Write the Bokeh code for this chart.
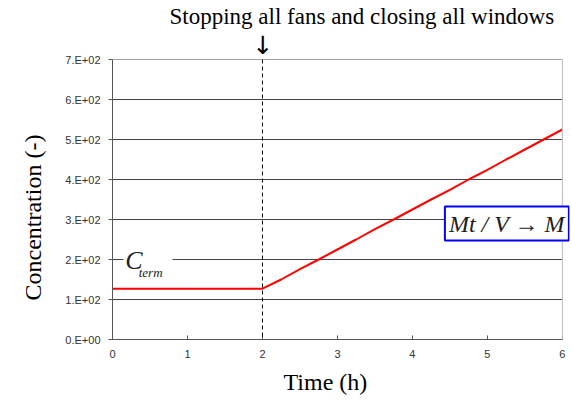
from bokeh.plotting import figure
from bokeh.models import Range1d, FixedTicker, Label, Span, ColumnDataSource, Title, BoxAnnotation
from bokeh.embed import file_html
from bokeh.resources import INLINE

# ---- data ----
time_h = [0, 2, 2.25, 2.5, 2.75, 3, 3.25, 3.5, 3.75, 4, 4.25, 4.5, 4.75, 5, 5.25, 5.5, 5.75, 6]
concentration = [127, 127, 150, 176, 200, 225, 250, 276, 300, 325, 350, 374, 400, 424, 450, 475, 500, 525]
x_ticks = [0, 1, 2, 3, 4, 5, 6]
y_ticks = [0, 100, 200, 300, 400, 500, 600, 700]
y_tick_labels = ["0.E+00", "1.E+02", "2.E+02", "3.E+02", "4.E+02", "5.E+02", "6.E+02", "7.E+02"]
event_time = 2
title_text = "Stopping all fans and closing all windows"
x_label = "Time (h)"
y_label = "Concentration (-)"
box_text = "Mt / V \u2192 M"

x_min, x_max = x_ticks[0], x_ticks[-1]

p = figure(width=571, height=401, output_backend="svg", toolbar_location=None,
           x_range=Range1d(x_min, 6.095), y_range=Range1d(0, 700),
           min_border_left=112, min_border_right=2, min_border_top=59, min_border_bottom=61)
p.background_fill_color = "white"
p.border_fill_color = "white"
p.outline_line_color = None
p.xgrid.visible = False
p.ygrid.visible = False

# horizontal grid lines (only across the data span)
p.segment(x0=[x_min] * (len(y_ticks) - 1), x1=[x_max] * (len(y_ticks) - 1),
          y0=y_ticks[1:], y1=y_ticks[1:], line_color="#444444", line_width=1)
# right frame edge
p.add_layout(Span(location=x_max, dimension="height", line_color="#bbbbbb", line_width=1))

src = ColumnDataSource(dict(t=time_h, c=concentration))
p.line("t", "c", source=src, line_color="#ff0000", line_width=2)

# axes
p.xaxis.ticker = FixedTicker(ticks=x_ticks)
p.yaxis.ticker = FixedTicker(ticks=y_ticks)
p.xaxis.bounds = (x_min, x_max)
p.yaxis.major_label_overrides = {t: l for t, l in zip(y_ticks, y_tick_labels)}
for ax in (p.xaxis[0], p.yaxis[0]):
    ax.axis_line_color = "#555555"
    ax.major_tick_line_color = "#555555"
    ax.minor_tick_line_color = None
    ax.major_label_text_font = "Liberation Sans"
    ax.major_label_text_font_size = "11px"
    ax.major_label_text_color = "#333333"
    ax.major_label_text_font_style = "normal"
p.xaxis.major_tick_in = 4
p.xaxis.major_tick_out = 0
p.xaxis.major_label_standoff = 10
p.yaxis.major_tick_in = 0
p.yaxis.major_tick_out = 4
p.yaxis.major_label_standoff = 8

# x axis label as a bottom title
p.add_layout(Title(text=x_label, text_font="Liberation Serif", text_font_size="24px",
                   text_font_style="normal", text_color="black", text_line_height=1.0,
                   align="left", offset=171, standoff=13), "below")

# y axis label as a side title
p.add_layout(Title(text=y_label, text_font="Liberation Serif", text_font_size="24px",
                   text_font_style="normal", text_color="black", text_line_height=1.0,
                   align="left", offset=39, standoff=34), "left")

# arrow marker above the event line
p.add_layout(Title(text="\u2193", text_font="DejaVu Sans", text_font_size="25px",
                   text_font_style="normal", text_color="black", text_line_height=0.9,
                   align="left", offset=140, standoff=0), "above")

# top caption
p.title = Title(text=title_text, text_font="Liberation Serif", text_font_size="23px",
                text_font_style="normal", text_color="black", align="left",
                text_line_height=1.0, offset=57, standoff=0)

# event line
p.add_layout(Span(location=event_time, dimension="height", line_color="black",
                  line_dash="4 3", line_width=1))

# C_term (white backing over the grid line)
p.add_layout(BoxAnnotation(left=0.147, right=0.8, bottom=185, top=215,
                           fill_color="white", fill_alpha=1.0, line_color=None))
p.add_layout(Label(x=0.17, y=197, text="C", text_font="Liberation Serif",
                   text_font_size="26px", text_font_style="italic", text_color="#222222",
                   text_align="left", text_baseline="alphabetic"))
p.add_layout(Label(x=0.35, y=168, text="term", text_font="Liberation Serif",
                   text_font_size="13px", text_font_style="italic", text_color="#222222",
                   text_align="left", text_baseline="alphabetic"))

# boxed expression
p.add_layout(Label(x=5.26, y=290, text=box_text, text_font="Liberation Serif",
                   text_font_size="24px", text_font_style="italic", text_color="#222222",
                   text_align="center", text_baseline="middle",
                   background_fill_color="white", border_line_color="#0000ff",
                   border_line_width=2, padding=4))

open("out.html", "w").write(file_html(p, INLINE))
